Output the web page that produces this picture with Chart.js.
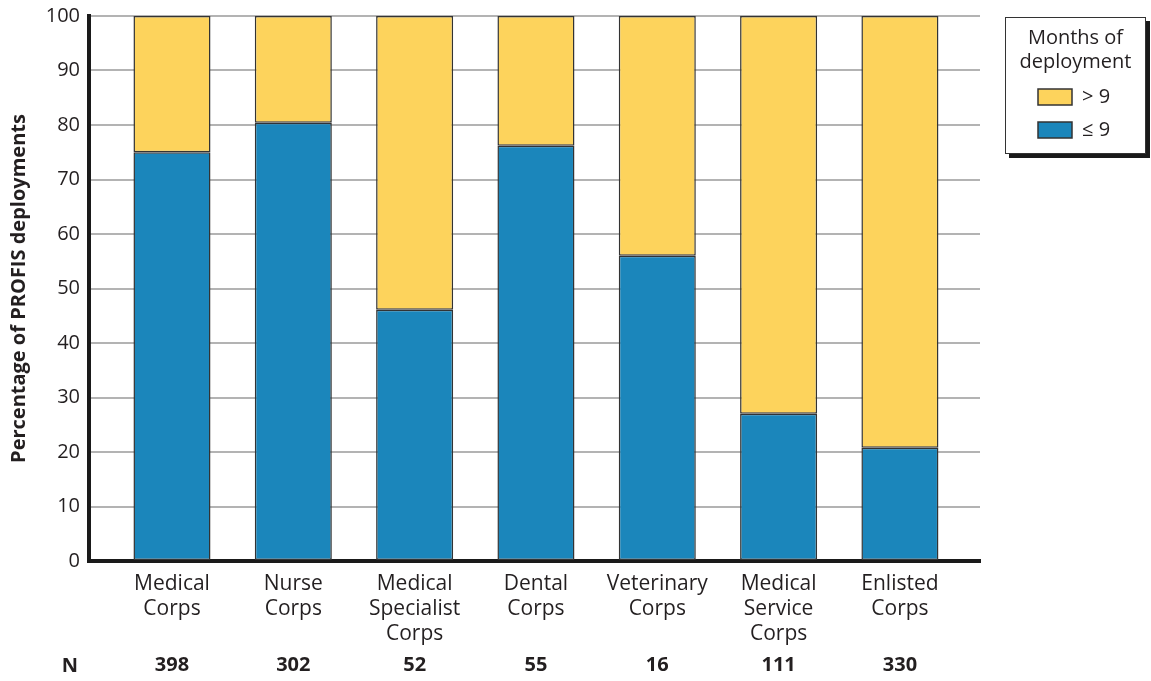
<!DOCTYPE html>
<html>
<head>
<meta charset="utf-8">
<script src="https://cdn.jsdelivr.net/npm/chart.js@4/dist/chart.umd.min.js"></script>
<style>
  html, body { margin: 0; padding: 0; background: #fff; }
  #wrap { width: 1151px; height: 681px; position: relative; }
</style>
</head>
<body>
<div id="wrap"><canvas id="myChart" width="1151" height="681"></canvas></div>
<script>
// data
var categories = [
  ["Medical", "Corps"],
  ["Nurse", "Corps"],
  ["Medical", "Specialist", "Corps"],
  ["Dental", "Corps"],
  ["Veterinary", "Corps"],
  ["Medical", "Service", "Corps"],
  ["Enlisted", "Corps"]
];
var nCounts = [398, 302, 52, 55, 16, 111, 330];
var upTo9 = [75, 80.4, 46.1, 76.2, 56, 27, 20.8];
var over9 = [25, 19.6, 53.9, 23.8, 44, 73, 79.2];
var seriesLabels = ["> 9", "\u2264 9"];
var legendTitle = ["Months of", "deployment"];

var FONT = "'Open Sans', 'Noto Sans', sans-serif";
var TEXT = "#231f20";
var BLUE = "#1b86bb";
var YELLOW = "#fdd35c";

function toPoints(arr) {
  var pts = [];
  for (var i = 0; i < arr.length; ++i) pts.push({ x: i, y: arr[i] });
  return pts;
}

// N row under the category labels
var nRowPlugin = {
  id: "nRow",
  afterDraw: function(chart) {
    var ctx = chart.ctx, xs = chart.scales.x;
    ctx.save();
    ctx.font = "bold 20px " + FONT;
    ctx.fillStyle = TEXT;
    ctx.textAlign = "center";
    ctx.textBaseline = "middle";
    ctx.fillText("N", 70, 666);
    for (var i = 0; i < nCounts.length; ++i) {
      ctx.fillText(String(nCounts[i]), xs.getPixelForValue(i), 665);
    }
    ctx.restore();
  }
};

// boxed legend with a drop shadow
var legendBoxPlugin = {
  id: "legendBox",
  afterDraw: function(chart) {
    var ctx = chart.ctx;
    var x = 1005, y = 17, w = 141, h = 137;
    ctx.save();
    ctx.fillStyle = "#1a1a1a";
    ctx.fillRect(x + 4, y + 4, w, h);
    ctx.fillStyle = "#fff";
    ctx.fillRect(x, y, w, h);
    ctx.strokeStyle = "#333";
    ctx.lineWidth = 1;
    ctx.strokeRect(x + 0.5, y + 0.5, w - 1, h - 1);

    ctx.fillStyle = TEXT;
    ctx.font = "20px " + FONT;
    ctx.textAlign = "center";
    ctx.textBaseline = "middle";
    ctx.fillText(legendTitle[0], x + w / 2, 38);
    ctx.fillText(legendTitle[1], x + w / 2, 62);

    var ds = chart.data.datasets;
    var rows = [{ d: ds[1], y: 97 }, { d: ds[0], y: 130 }];
    ctx.textAlign = "left";
    for (var i = 0; i < rows.length; ++i) {
      ctx.fillStyle = rows[i].d.backgroundColor;
      ctx.fillRect(1038, rows[i].y - 8, 34, 16);
      ctx.strokeStyle = "#333";
      ctx.lineWidth = 1.5;
      ctx.strokeRect(1038, rows[i].y - 8, 34, 16);
      ctx.fillStyle = TEXT;
      ctx.fillText(rows[i].d.label, 1082, rows[i].y);
    }
    ctx.restore();
  }
};

var ctx = document.getElementById("myChart").getContext("2d");
var myChart = new Chart(ctx, {
  type: "bar",
  data: {
    datasets: [
      { label: seriesLabels[1], data: toPoints(upTo9), backgroundColor: BLUE,
        borderColor: "#333", borderWidth: 1.5, borderSkipped: false },
      { label: seriesLabels[0], data: toPoints(over9), backgroundColor: YELLOW,
        borderColor: "#333", borderWidth: 1.5, borderSkipped: false }
    ]
  },
  options: {
    responsive: false,
    animation: false,
    events: [],
    layout: { padding: { left: 0, right: 171, top: 16, bottom: 0 } },
    datasets: { bar: { barPercentage: 0.635, categoryPercentage: 1 } },
    plugins: { legend: { display: false }, tooltip: { enabled: false } },
    scales: {
      x: {
        type: "linear",
        stacked: true,
        offset: false,
        min: -0.684,
        max: 6.66,
        afterFit: function(s) { s.height = 120; s.paddingLeft = 0; s.paddingRight = 0; },
        grid: { display: false, drawTicks: false },
        border: { color: "#1a1a1a", width: 4 },
        ticks: {
          stepSize: 1,
          includeBounds: false,
          autoSkip: false,
          maxRotation: 0,
          padding: 10,
          color: TEXT,
          font: { family: FONT, size: 21, lineHeight: 1.2 },
          callback: function(v) {
            return Number.isInteger(v) && categories[v] ? categories[v] : "";
          }
        }
      },
      y: {
        stacked: true,
        min: 0,
        max: 100,
        afterFit: function(s) { s.width = 89; s.paddingTop = 0; s.paddingBottom = 0; },
        grid: { color: "#b3b3b3", lineWidth: 2, drawTicks: false },
        border: { color: "#1a1a1a", width: 4 },
        ticks: {
          stepSize: 10,
          padding: 9,
          color: TEXT,
          font: { family: FONT, size: 20 }
        },
        title: {
          display: true,
          text: "Percentage of PROFIS deployments",
          color: TEXT,
          font: { family: FONT, size: 20, weight: "bold" },
          padding: { top: 7, bottom: 0 }
        }
      }
    }
  },
  plugins: [nRowPlugin, legendBoxPlugin]
});
</script>
</body>
</html>
